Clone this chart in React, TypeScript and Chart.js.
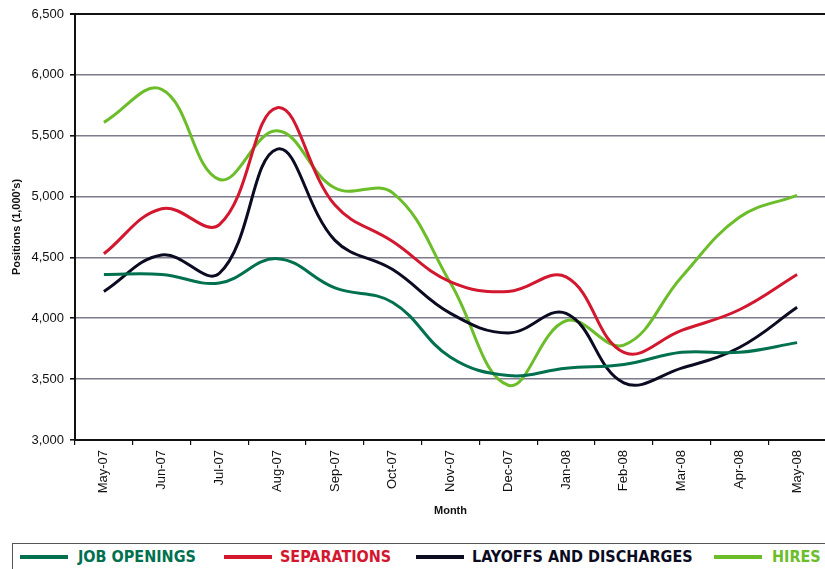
import React, { useEffect, useRef } from "react";
import { Chart, registerables } from "chart.js";

Chart.register(...registerables);

const months = ["May-07", "Jun-07", "Jul-07", "Aug-07", "Sep-07", "Oct-07", "Nov-07", "Dec-07", "Jan-08", "Feb-08", "Mar-08", "Apr-08", "May-08"];
const jobOpenings = [4360, 4360, 4290, 4490, 4250, 4130, 3680, 3530, 3590, 3620, 3720, 3720, 3800];
const separations = [4530, 4900, 4770, 5730, 4930, 4630, 4300, 4220, 4340, 3720, 3900, 4070, 4360];
const layoffs = [4220, 4520, 4370, 5390, 4640, 4400, 4040, 3880, 4040, 3470, 3590, 3760, 4090];
const hires = [5610, 5880, 5140, 5540, 5070, 5030, 4290, 3450, 3980, 3780, 4340, 4830, 5010];

const seriesNames = ["JOB OPENINGS", "SEPARATIONS", "LAYOFFS AND DISCHARGES", "HIRES"];
const seriesColors = ["#00704f", "#d2172f", "#0b0b22", "#6cbd2a"];
const yTitle = "Positions (1,000's)";
const xTitle = "Month";

export default function App() {
  const ref = useRef<HTMLCanvasElement>(null);
  useEffect(() => {
    if (!ref.current) return;
    const values = [jobOpenings, separations, layoffs, hires];
    const chart = new Chart(ref.current, {
      type: "line",
      data: {
        labels: months,
        datasets: values.map((v, i) => ({
          label: seriesNames[i],
          data: v,
          borderColor: seriesColors[i],
          backgroundColor: seriesColors[i],
          borderWidth: 3,
          pointRadius: 0,
          tension: 0.4,
          fill: false,
        })),
      },
      options: {
        animation: false,
        responsive: false,
        maintainAspectRatio: false,
        layout: { padding: { top: 14, right: 0, left: 10, bottom: 0 } },
        plugins: { legend: { display: false }, tooltip: { enabled: false } },
        scales: {
          x: {
            offset: true,
            grid: { offset: true, drawOnChartArea: false, tickLength: 5, tickColor: "#111", lineWidth: 1.2 },
            border: { color: "#111", width: 2 },
            ticks: {
              minRotation: 90,
              maxRotation: 90,
              color: "#111",
              padding: 5,
              font: { family: "'Liberation Sans', Arial, sans-serif", size: 13 },
            },
            title: {
              display: true,
              text: xTitle,
              color: "#111",
              padding: { top: 6, bottom: 0 },
              font: { family: "'Liberation Sans', Arial, sans-serif", size: 11, weight: "bold" },
            },
            afterFit: (s: any) => {
              s.height = 78;
            },
          },
          y: {
            min: 3000,
            max: 6500,
            ticks: {
              stepSize: 500,
              color: "#111",
              padding: 6,
              font: { family: "'Liberation Sans', Arial, sans-serif", size: 13 },
              callback: (v: any) => Number(v).toLocaleString("en-US"),
            },
            grid: {
              color: (c: any) => (c.tick && c.tick.value === 6500 ? "#111" : "#7c7b8c"),
              lineWidth: (c: any) => (c.tick && c.tick.value === 6500 ? 2 : 1.6),
              tickColor: "#111",
              tickLength: 5,
            },
            border: { color: "#111", width: 2 },
            title: {
              display: true,
              text: yTitle,
              color: "#111",
              padding: { top: 0, bottom: 4 },
              font: { family: "'Liberation Sans', Arial, sans-serif", size: 11, weight: "bold" },
            },
            afterFit: (s: any) => {
              s.width = 65;
            },
          },
        },
      },
    });
    return () => chart.destroy();
  }, []);

  const legendLineX = [20, 224, 416, 714];
  const legendTextX = [78, 280, 472, 772];

  return (
    <div style={{ position: "fixed", left: 0, top: 0, width: 825, height: 569, overflow: "hidden", background: "#fff" }}>
      <canvas ref={ref} width={826} height={518} style={{ position: "absolute", left: 0, top: 0, width: 826, height: 518 }} />
      <div
        style={{
          position: "absolute",
          left: 12,
          top: 543,
          width: 830,
          height: 40,
          border: "1.5px solid #555",
          boxSizing: "border-box",
        }}
      />
      {seriesNames.map((n, i) => (
        <React.Fragment key={n}>
          <div
            style={{
              position: "absolute",
              left: legendLineX[i],
              top: 555,
              width: 48,
              height: 4,
              background: seriesColors[i],
            }}
          />
          <div
            style={{
              position: "absolute",
              left: legendTextX[i],
              top: 547,
              color: seriesColors[i],
              fontFamily: "'Liberation Sans Narrow', 'DejaVu Sans Condensed', Arial, sans-serif",
              fontWeight: "bold",
              fontSize: 16,
              lineHeight: "20px",
              whiteSpace: "nowrap",
            }}
          >
            {n}
          </div>
        </React.Fragment>
      ))}
    </div>
  );
}
